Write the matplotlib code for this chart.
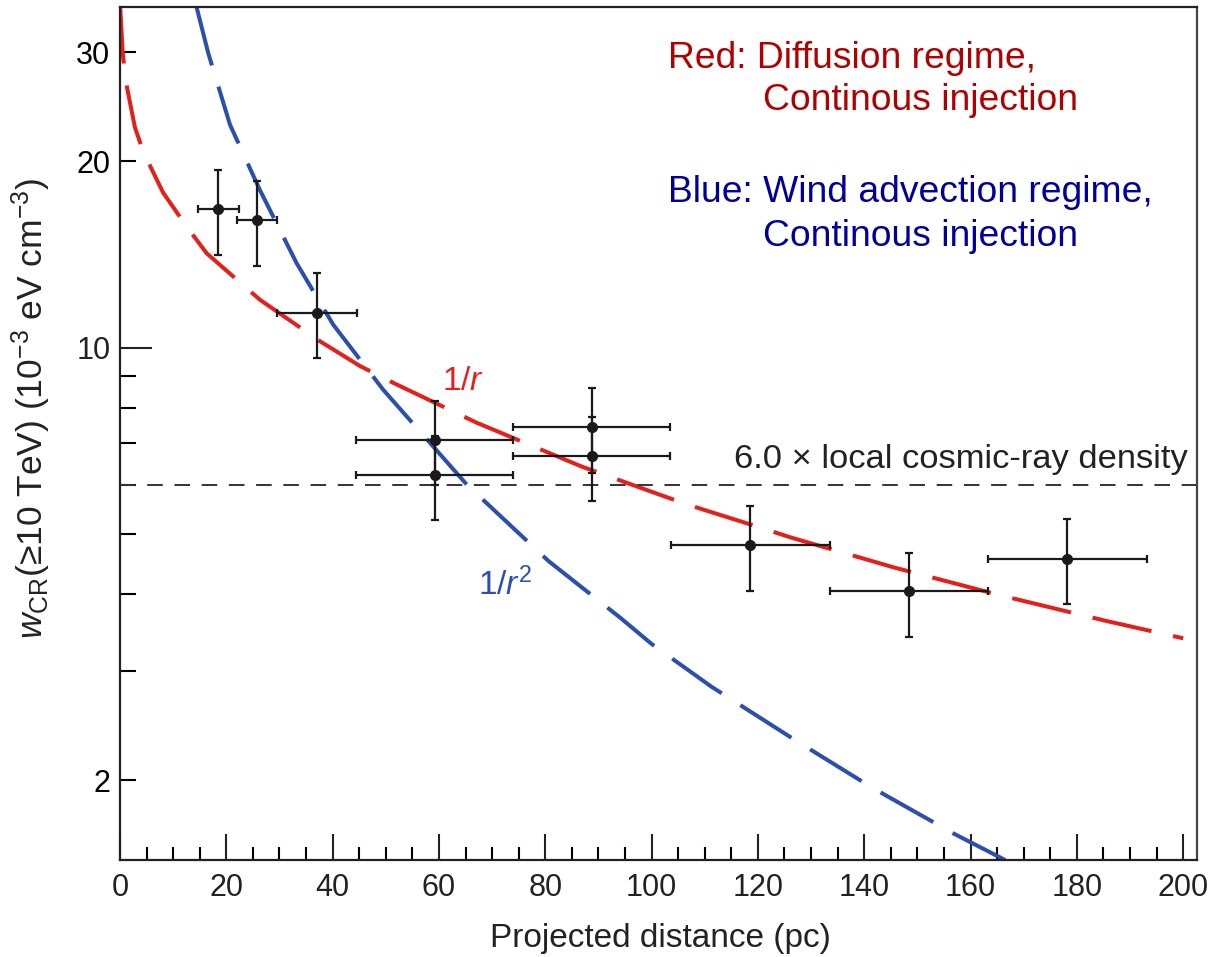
import numpy as np
import matplotlib
matplotlib.use('Agg')
from matplotlib import pyplot as plt
from matplotlib.ticker import FixedLocator, FuncFormatter

# fonts
plt.rcParams['font.family'] = ['Liberation Sans', 'DejaVu Sans']
plt.rcParams['mathtext.fontset'] = 'custom'
plt.rcParams['mathtext.rm'] = 'Liberation Sans'
plt.rcParams['mathtext.it'] = 'Liberation Sans:italic'

# measured points
dist = [18.5, 25.8, 37.0, 59.2, 59.2, 88.7, 88.7, 118.6, 148.4, 178.2]
dist_err = [3.8, 3.75, 7.5, 14.8, 14.8, 14.8, 14.8, 15.0, 14.9, 15.0]
wcr = [16.74, 16.05, 11.39, 7.08, 6.22, 7.44, 6.69, 4.79, 4.04, 4.56]
wcr_hi = [19.37, 18.55, 13.18, 8.19, 7.2, 8.60, 7.73, 5.54, 4.66, 5.28]
wcr_lo = [14.11, 13.52, 9.61, 6.0, 5.27, 6.28, 5.64, 4.04, 3.41, 3.85]

# model curves
red_x = [0.0, 0.5, 1.1, 2.8, 4.4, 8.1, 12.5, 16.3, 26.3, 37.6, 45.2, 51.4,
         67.1, 86.9, 97.8, 106.6, 120.4, 126.3, 145.7, 165.5, 185.3, 200.0]
red_y = [36.0, 30.0, 26.9, 22.7, 20.7, 17.8, 15.7, 14.2, 11.95, 10.24, 9.33,
         8.77, 7.56, 6.42, 5.94, 5.58, 5.12, 4.93, 4.41, 3.98, 3.62, 3.39]
blue_x = [14.4, 16.6, 20.7, 26.3, 33.2, 40.1, 49.5, 65.2, 80.6, 94.1, 100.0,
          111.3, 126.7, 141.7, 156.8, 166.5]
blue_y = [35.5, 29.9, 22.9, 17.98, 13.7, 10.89, 8.55, 6.01, 4.52, 3.66, 3.32,
          2.83, 2.33, 1.94, 1.64, 1.486]

local_level = 6.0

# figure
fig = plt.figure(figsize=(12.17, 9.57), dpi=100)
ax = fig.add_axes([120 / 1217, 1 - 860 / 957, 1077 / 1217, 853 / 957])

ax.set_yscale('log')
ax.set_xlim(0, 202.6)
ax.set_ylim(1.486, 35.5)

# curves
ax.plot(red_x, red_y, color='#e3201b', lw=2.9, dashes=(15, 5.5))
ax.plot(blue_x, blue_y, color='#2b4fae', lw=2.9, dashes=(15, 5.5))
ax.axhline(local_level, color='#333333', lw=1.4, dashes=(8, 6))

# data
yerr = [np.array(wcr) - np.array(wcr_lo), np.array(wcr_hi) - np.array(wcr)]
ax.errorbar(dist, wcr, xerr=dist_err, yerr=yerr, fmt='o', color='#1a1a1a',
            ms=7, elinewidth=1.6, capsize=3, capthick=1.6)

# ticks
ax.yaxis.set_major_locator(FixedLocator([10]))
ax.yaxis.set_minor_locator(FixedLocator([2, 3, 4, 5, 6, 7, 8, 9, 20, 30]))
ax.yaxis.set_major_formatter(FuncFormatter(lambda v, p: '%d' % v))
ax.yaxis.set_minor_formatter(
    FuncFormatter(lambda v, p: '%d' % v if v in (2, 20, 30) else ''))
ax.set_xticks(np.arange(0, 201, 20))
ax.set_xticks(np.arange(0, 201, 5), minor=True)

ax.tick_params(axis='y', which='major', direction='in', length=23, width=1.5,
               labelsize=22, pad=7)
ax.tick_params(axis='y', which='minor', direction='in', length=11.5, width=1.5,
               labelsize=22, pad=7)
ax.tick_params(axis='x', which='major', direction='in', length=19, width=1.5,
               labelsize=22, pad=9)
ax.tick_params(axis='x', which='minor', direction='in', length=9.5, width=1.5)
ax.tick_params(colors='#222222')

for side in ['left', 'bottom', 'top']:
    ax.spines[side].set_linewidth(1.6)
    ax.spines[side].set_color('#222222')
ax.spines['right'].set_linewidth(1.6)
ax.spines['right'].set_color('#444444')

# labels
ax.set_xlabel('Projected distance (pc)', fontsize=24, color='#222222',
              va='center')
ax.set_ylabel(r'$w_{\mathrm{CR}}$(≥10 TeV) (10$^{-3}$ eV cm$^{-3}$)',
              fontsize=25.5, color='#222222', va='center')
ax.xaxis.set_label_coords((660 - 120) / 1077, -(939 - 860) / 853)
ax.yaxis.set_label_coords(-(120 - 31) / 1077, (860 - 409) / 853)

# annotations
ax.text(1188 / 1217, 1 - 460 / 957, '6.0 × local cosmic-ray density',
        transform=fig.transFigure, ha='right', va='center', fontsize=24.8,
        color='#222222')
ax.text(463 / 1217, 1 - 382 / 957, r'1/$r$', transform=fig.transFigure,
        ha='center', va='center', fontsize=24, color='#e3201b')
ax.text(505 / 1217, 1 - 585 / 957, r'1/$r^2$', transform=fig.transFigure,
        ha='center', va='center', fontsize=24, color='#2b4fae')

fig.text(668 / 1217, 1 - 58 / 957, 'Red: Diffusion regime,', ha='left',
         va='center', fontsize=26.8, color='#b00000')
fig.text(763 / 1217, 1 - 100 / 957, 'Continous injection', ha='left',
         va='center', fontsize=26.8, color='#b00000')
fig.text(668 / 1217, 1 - 193 / 957, 'Blue: Wind advection regime,', ha='left',
         va='center', fontsize=26.8, color='#000099')
fig.text(763 / 1217, 1 - 237 / 957, 'Continous injection', ha='left',
         va='center', fontsize=26.8, color='#000099')

fig.savefig('out.png', dpi=100)
